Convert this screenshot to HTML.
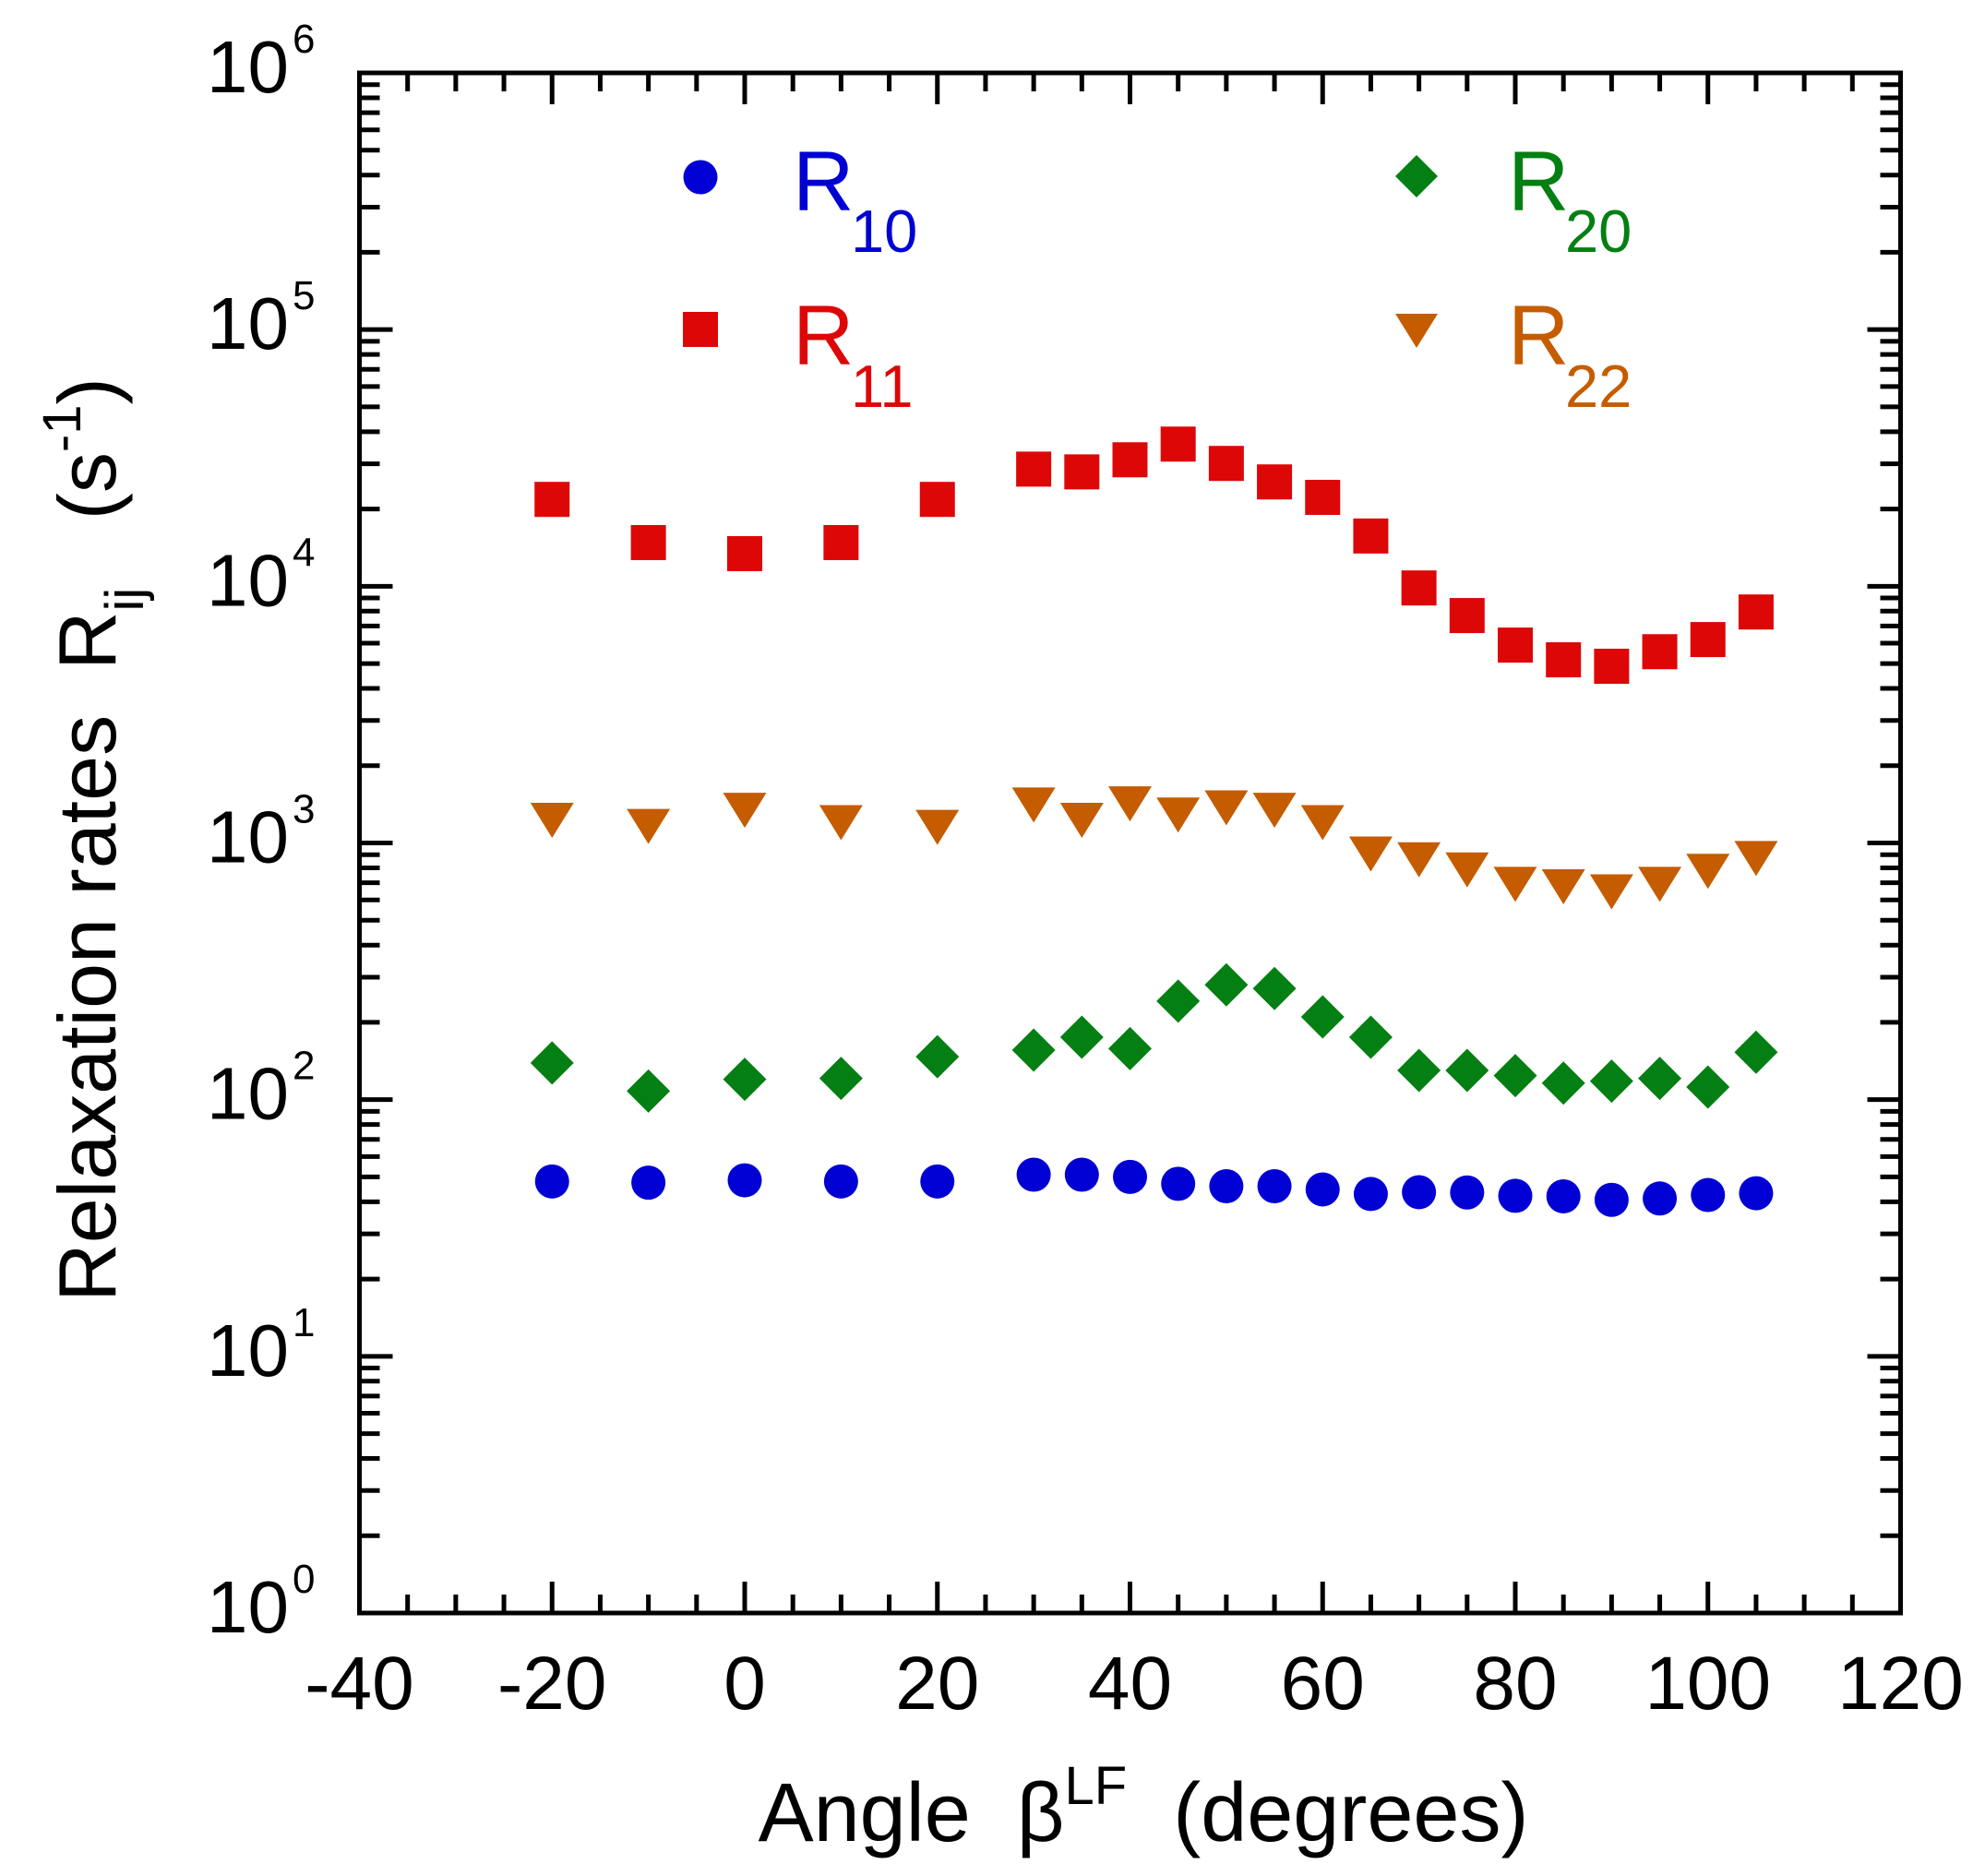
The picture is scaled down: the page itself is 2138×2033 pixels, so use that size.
<!DOCTYPE html>
<html><head><meta charset="utf-8"><style>
html,body{margin:0;padding:0;background:#fff;}
svg{display:block;font-family:"Liberation Sans",Arial,sans-serif;}
text{white-space:pre;}
</style></head><body>
<svg id="chart" width="2138" height="2033" viewBox="0 0 2138 2033" xmlns="http://www.w3.org/2000/svg" xml:space="preserve">
<g id="axes"></g>
<g id="marks"></g>
<g id="legend">
  <g>
    <circle cx="759" cy="192" r="18.5" fill="#0000d4"/>
    <text x="859" y="228" font-size="92" fill="#0000d4">R</text>
    <text x="922" y="273" font-size="65" fill="#0000d4">10</text>
  </g>
  <g>
    <rect x="740" y="338" width="38" height="38" fill="#dd0707"/>
    <text x="859" y="395" font-size="92" fill="#dd0707">R</text>
    <text x="922" y="441" font-size="65" fill="#dd0707">11</text>
  </g>
  <g>
    <polygon points="1535,168 1558,191 1535,214 1512,191" fill="#047f13"/>
    <text x="1634" y="228" font-size="92" fill="#047f13">R</text>
    <text x="1696" y="273" font-size="65" fill="#047f13">20</text>
  </g>
  <g>
    <polygon points="1512,340 1558,340 1535,377" fill="#c55c00"/>
    <text x="1634" y="395" font-size="92" fill="#c55c00">R</text>
    <text x="1696" y="441" font-size="65" fill="#c55c00">22</text>
  </g>
</g>
<text x="1239" y="1995" font-size="90" text-anchor="middle">Angle  β<tspan font-size="58" dy="-40">LF</tspan><tspan dy="40">  (degrees)</tspan></text>
<text transform="translate(125,910) rotate(-90)" font-size="88" text-anchor="middle">Relaxation rates  R<tspan font-size="58" dy="30">ij</tspan><tspan dy="-30">   (s</tspan><tspan font-size="58" dy="-38">-1</tspan><tspan dy="38">)</tspan></text>
</svg>
<script>
const angles = [-20,-10,0,10,20,30,35,40,45,50,55,60,65,70,75,80,85,90,95,100,105];
const r10 = [48,47.5,48.5,48,48,51,51,50,47,46,46,44.7,42.9,43.6,43.5,42.2,42,40.7,41.2,42.5,43.2];
const r11 = [21800,14800,13400,14800,21800,28600,27900,31100,35800,30100,25500,22200,15700,9850,7690,5900,5170,4880,5560,6200,7940];
const r20 = [139,108,120,121,147,156,175,158,242,280,271,210,175,130,130,124,116,118,121,112,153];
const r22 = [1225,1160,1340,1200,1150,1405,1225,1420,1285,1370,1340,1200,905,860,785,690,675,645,690,775,870];
const xTicks = [-40,-20,0,20,40,60,80,100,120];
const yExps = [0,1,2,3,4,5,6];

const NS = "http://www.w3.org/2000/svg";
const L=389.5, R=2059.5, T=79, B=1748;
const xMin=-40, xMax=120, yMinExp=0, yMaxExp=6;
function xs(v){return L+(v-xMin)/(xMax-xMin)*(R-L);}
function ys(v){return B-(Math.log10(v)-yMinExp)/(yMaxExp-yMinExp)*(B-T);}
function mk(tag,attrs,parent){const e=document.createElementNS(NS,tag);for(const k in attrs)e.setAttribute(k,attrs[k]);parent.appendChild(e);return e;}

const axes=document.getElementById('axes');
const frame=mk('rect',{x:L,y:T,width:R-L,height:B-T,fill:'none',stroke:'#000','stroke-width':5},axes);



for(let v=xMin; v<=xMax; v+=5){
  const x=xs(v); const major=(v%20===0); const len=major?34:20;
  if(v===xMin||v===xMax) continue;
  const t1=mk('line',{x1:x,y1:B,x2:x,y2:B-len,stroke:'#000','stroke-width':5},axes);
  
  
  const t2=mk('line',{x1:x,y1:T,x2:x,y2:T+len,stroke:'#000','stroke-width':5},axes);
  
  
}
xTicks.forEach(v=>{
  const t=mk('text',{x:xs(v),y:1852,'font-size':82,'text-anchor':'middle'},axes);
  t.textContent=String(v);
  
  
});
for(let e=yMinExp; e<yMaxExp; e++){
  for(let m=1;m<10;m++){
    const v=m*Math.pow(10,e); const y=ys(v); const major=(m===1); const len=major?36:22;
    if(e===yMinExp&&m===1) continue;
    const a=mk('line',{x1:L,y1:y,x2:L+len,y2:y,stroke:'#000','stroke-width':5},axes);
    
    
    const b=mk('line',{x1:R,y1:y,x2:R-len,y2:y,stroke:'#000','stroke-width':5},axes);
    
    
  }
}
yExps.forEach(e=>{
  const y=ys(Math.pow(10,e));
  const t=mk('text',{x:313,y:y+21,'font-size':80,'text-anchor':'end'},axes);
  t.textContent='10';
  
  
  const s=mk('text',{x:317,y:y-22,'font-size':44},axes);
  s.textContent=String(e);
  
  
});

const marks=document.getElementById('marks');
angles.forEach((a,i)=>{
  const x=xs(a);
  let y=ys(r11[i]);
  const sq=mk('rect',{x:x-19,y:y-19,width:38,height:38,fill:'#dd0707'},marks);
  
  
  y=ys(r22[i]);
  const tr=mk('polygon',{points:`${x-23.5},${y-19} ${x+23.5},${y-19} ${x},${y+19}`,fill:'#c55c00'},marks);
  
  
  y=ys(r20[i]);
  const di=mk('polygon',{points:`${x},${y-23.5} ${x+23.5},${y} ${x},${y+23.5} ${x-23.5},${y}`,fill:'#047f13'},marks);
  
  
  y=ys(r10[i]);
  const ci=mk('circle',{cx:x,cy:y,r:18.5,fill:'#0000d4'},marks);
  
  
});
</script>
</body></html>
